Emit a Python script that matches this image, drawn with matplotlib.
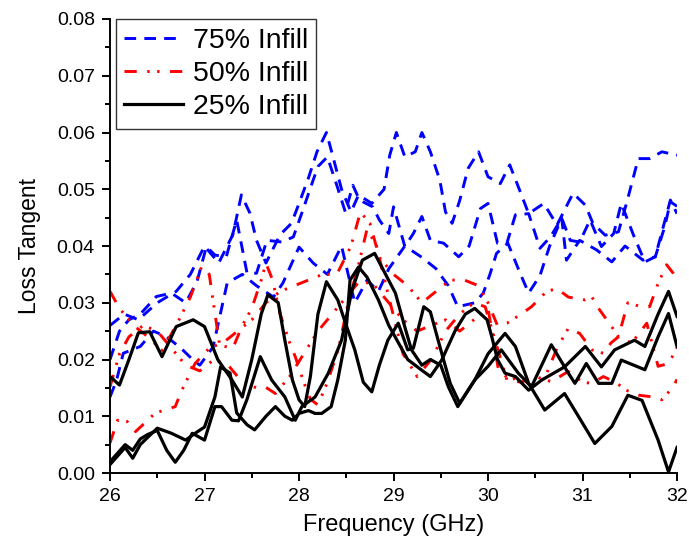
import matplotlib
matplotlib.use("Agg")
import matplotlib.pyplot as plt
from matplotlib.ticker import MultipleLocator

plt.rcParams['font.family'] = ['Liberation Sans', 'DejaVu Sans']

# ---- 75% infill (blue, dashed) ----
b1_x = [26.0, 26.15, 26.3, 26.5, 26.7, 26.85, 27.0, 27.15, 27.3, 27.39, 27.48, 27.55, 27.65, 27.8, 27.92,
        28.0, 28.1, 28.19, 28.29, 28.35, 28.45, 28.55, 28.63, 28.77, 28.9, 28.96, 29.03, 29.12, 29.23, 29.3,
        29.39, 29.49, 29.55, 29.62, 29.7, 29.79, 29.9, 30.0, 30.13, 30.23, 30.34, 30.43, 30.59, 30.73, 30.9,
        31.03, 31.11, 31.24, 31.38, 31.47, 31.59, 31.71, 31.84, 32.0]
b1_y = [0.026, 0.028, 0.027, 0.030, 0.032, 0.035, 0.040, 0.037, 0.042, 0.049, 0.0458, 0.041, 0.037, 0.042, 0.044,
        0.0475, 0.052, 0.0566, 0.060, 0.0563, 0.050, 0.046, 0.049, 0.0475, 0.050, 0.056, 0.060, 0.0557, 0.0566, 0.060,
        0.0566, 0.0516, 0.046, 0.044, 0.048, 0.0537, 0.0566, 0.0522, 0.051, 0.0543, 0.0496, 0.0457, 0.0475, 0.0437, 0.0493,
        0.0472, 0.044, 0.0419, 0.0425, 0.0478, 0.0554, 0.0554, 0.0566, 0.056]

b2_x = [26.0, 26.1, 26.2, 26.32, 26.49, 26.65, 26.8, 26.92, 27.02, 27.11, 27.23, 27.34, 27.45, 27.55, 27.66,
        27.82, 27.94, 28.04, 28.12, 28.2, 28.3, 28.4, 28.49, 28.57, 28.64, 28.78, 28.85, 28.95, 29.0, 29.12,
        29.21, 29.3, 29.39, 29.53, 29.69, 29.8, 29.92, 30.0, 30.1, 30.2, 30.29, 30.43, 30.55, 30.66, 30.78,
        30.87, 30.97, 31.08, 31.2, 31.33, 31.41, 31.54, 31.66, 31.77, 31.85, 31.93, 32.0]
b2_y = [0.020, 0.025, 0.027, 0.028, 0.0311, 0.0317, 0.030, 0.0337, 0.0399, 0.0384, 0.0381, 0.0446, 0.0352, 0.0352, 0.041,
        0.0407, 0.0416, 0.0463, 0.0502, 0.054, 0.0557, 0.0507, 0.046, 0.0507, 0.0481, 0.0469, 0.0446, 0.0422, 0.0469, 0.0399,
        0.0422, 0.0452, 0.041, 0.0405, 0.0381, 0.040, 0.0466, 0.0475, 0.0405, 0.0405, 0.0455, 0.0457, 0.0396, 0.0416, 0.0449,
        0.0410, 0.0407, 0.0446, 0.0399, 0.0422, 0.0475, 0.0419, 0.0372, 0.0381, 0.0431, 0.0481, 0.0457]

b3_x = [26.0, 26.07, 26.14, 26.32, 26.46, 26.6, 26.75, 26.88, 26.95, 27.09, 27.24, 27.4, 27.55, 27.73, 27.83,
        28.0, 28.15, 28.3, 28.45, 28.59, 28.72, 28.84, 28.95, 29.12, 29.3, 29.45, 29.58, 29.68, 29.86, 29.95,
        30.02, 30.09, 30.21, 30.34, 30.43, 30.55, 30.65, 30.78, 30.83, 30.97, 31.15, 31.31, 31.45, 31.64, 31.77,
        31.87, 31.93, 32.0]
b3_y = [0.0134, 0.0164, 0.0211, 0.0223, 0.025, 0.024, 0.022, 0.0199, 0.019, 0.0222, 0.0335, 0.035, 0.033, 0.031, 0.0335,
        0.0398, 0.037, 0.035, 0.040, 0.030, 0.034, 0.032, 0.036, 0.040, 0.038, 0.036, 0.033, 0.0293, 0.030, 0.0317,
        0.035, 0.0387, 0.0405, 0.0352, 0.0317, 0.0348, 0.0399, 0.0449, 0.0375, 0.041, 0.0393, 0.0372, 0.040, 0.0375, 0.0381,
        0.0434, 0.0478, 0.0470]

# ---- 50% infill (red, dash-dot-dot) ----
r1_x = [26.0, 26.1, 26.25, 26.4, 26.55, 26.7, 26.85, 26.97, 27.05, 27.16, 27.3, 27.4, 27.5, 27.6, 27.65,
        27.72, 27.8, 27.9, 27.96, 28.05, 28.12, 28.2, 28.3, 28.42, 28.52, 28.62, 28.72, 28.82, 28.95, 29.1,
        29.25, 29.4, 29.55, 29.7, 29.85, 29.97, 30.1, 30.2, 30.35, 30.5, 30.67, 30.85, 31.0, 31.1, 31.22,
        31.35, 31.46, 31.6, 31.75, 31.84, 31.96, 32.0]
r1_y = [0.032, 0.029, 0.026, 0.024, 0.0216, 0.026, 0.031, 0.0364, 0.035, 0.0225, 0.022, 0.026, 0.029, 0.034, 0.037,
        0.034, 0.028, 0.023, 0.0205, 0.016, 0.013, 0.012, 0.016, 0.022, 0.030, 0.036, 0.043, 0.040, 0.031, 0.021,
        0.017, 0.020, 0.025, 0.028, 0.030, 0.0293, 0.022, 0.0164, 0.016, 0.017, 0.0161, 0.0179, 0.016, 0.0158, 0.017,
        0.016, 0.0146, 0.0137, 0.0134, 0.0129, 0.0152, 0.0165]

r2_x = [26.0, 26.08, 26.18, 26.27, 26.38, 26.48, 26.56, 26.69, 26.76, 26.9, 27.05, 27.2, 27.35, 27.5, 27.65,
        27.8, 27.95, 28.1, 28.25, 28.4, 28.55, 28.65, 28.75, 28.85, 29.0, 29.15, 29.3, 29.45, 29.6, 29.75,
        29.9, 30.0, 30.1, 30.2, 30.35, 30.46, 30.62, 30.73, 30.85, 31.03, 31.1, 31.17, 31.3, 31.38, 31.48,
        31.62, 31.71, 31.8, 31.89, 31.96, 32.0]
r2_y = [0.0053, 0.0093, 0.0091, 0.0073, 0.009, 0.0106, 0.011, 0.0117, 0.0146, 0.0193, 0.022, 0.023, 0.025, 0.027, 0.030,
        0.032, 0.033, 0.034, 0.035, 0.035, 0.040, 0.046, 0.044, 0.038, 0.035, 0.033, 0.030, 0.032, 0.034, 0.034,
        0.033, 0.030, 0.026, 0.0264, 0.028, 0.0293, 0.032, 0.0325, 0.031, 0.0305, 0.031, 0.029, 0.026, 0.024, 0.030,
        0.0293, 0.0293, 0.0334, 0.0367, 0.0352, 0.034]

r3_x = [26.0, 26.1, 26.2, 26.35, 26.5, 26.65, 26.8, 26.95, 27.1, 27.25, 27.4, 27.55, 27.64, 27.75, 27.9,
        28.05, 28.2, 28.35, 28.5, 28.65, 28.8, 28.95, 29.1, 29.25, 29.4, 29.55, 29.7, 29.85, 30.0, 30.11,
        30.23, 30.35, 30.46, 30.6, 30.73, 30.85, 30.97, 31.1, 31.22, 31.3, 31.38, 31.52, 31.68, 31.8, 31.91,
        32.0]
r3_y = [0.0152, 0.021, 0.024, 0.026, 0.025, 0.022, 0.019, 0.018, 0.020, 0.019, 0.016, 0.015, 0.0152, 0.014, 0.017,
        0.021, 0.025, 0.028, 0.031, 0.034, 0.033, 0.030, 0.027, 0.025, 0.026, 0.027, 0.025, 0.027, 0.029, 0.0182,
        0.0164, 0.017, 0.0152, 0.0167, 0.022, 0.0255, 0.0246, 0.0217, 0.0211, 0.0229, 0.0240, 0.0229, 0.0264, 0.0188, 0.0193,
        0.022]

# ---- 25% infill (black, solid) ----
k1_x = [26.0, 26.1, 26.2, 26.3, 26.42, 26.55, 26.7, 26.88, 27.0, 27.14, 27.29, 27.4, 27.5, 27.6, 27.67,
        27.78, 27.85, 27.93, 28.0, 28.06, 28.12, 28.2, 28.29, 28.41, 28.5, 28.59, 28.68, 28.77, 28.85, 28.94,
        29.05, 29.15, 29.21, 29.32, 29.39, 29.49, 29.6, 29.7, 29.86, 30.0, 30.18, 30.29, 30.43, 30.6, 30.81,
        30.96, 31.13, 31.31, 31.48, 31.63, 31.8, 31.91, 32.0]
k1_y = [0.017, 0.0155, 0.020, 0.0247, 0.0249, 0.0205, 0.0258, 0.027, 0.0258, 0.020, 0.0164, 0.0134, 0.020, 0.028, 0.0314,
        0.030, 0.0234, 0.0164, 0.0129, 0.0117, 0.017, 0.028, 0.0337, 0.0305, 0.026, 0.0217, 0.016, 0.0143, 0.019, 0.0234,
        0.0264, 0.0217, 0.022, 0.0293, 0.0284, 0.0223, 0.0158, 0.0123, 0.0164, 0.021, 0.0246, 0.0223, 0.0158, 0.0111, 0.0140,
        0.0099, 0.0052, 0.0082, 0.0137, 0.0128, 0.0058, 0.0002, 0.0045]

k2_x = [26.0, 26.08, 26.16, 26.24, 26.32, 26.4, 26.5, 26.65, 26.8, 26.9, 27.0, 27.11, 27.17, 27.27, 27.34,
        27.45, 27.53, 27.65, 27.75, 27.85, 27.93, 28.0, 28.1, 28.17, 28.24, 28.34, 28.41, 28.49, 28.54, 28.63,
        28.72, 28.84, 28.95, 29.05, 29.15, 29.3, 29.39, 29.51, 29.65, 29.76, 29.86, 29.99, 30.04, 30.1, 30.18,
        30.29, 30.43, 30.57, 30.81, 31.03, 31.2, 31.34, 31.55, 31.66, 31.8, 31.91, 32.0]
k2_y = [0.0015, 0.003, 0.0045, 0.0026, 0.005, 0.0063, 0.0079, 0.007, 0.0058, 0.007, 0.0081, 0.0134, 0.0187, 0.0176, 0.0106,
        0.0085, 0.0076, 0.010, 0.0117, 0.010, 0.0093, 0.0105, 0.011, 0.0105, 0.0105, 0.0117, 0.0164, 0.0234, 0.034, 0.0363,
        0.0345, 0.0305, 0.026, 0.023, 0.020, 0.0181, 0.017, 0.0199, 0.025, 0.028, 0.029, 0.027, 0.024, 0.020, 0.0176,
        0.017, 0.0146, 0.0164, 0.0187, 0.0223, 0.0187, 0.0217, 0.0234, 0.0223, 0.028, 0.032, 0.0276]

k3_x = [26.0, 26.08, 26.16, 26.24, 26.32, 26.4, 26.5, 26.6, 26.69, 26.78, 26.87, 27.0, 27.11, 27.18, 27.29,
        27.36, 27.45, 27.59, 27.71, 27.85, 27.96, 28.03, 28.17, 28.31, 28.45, 28.56, 28.67, 28.8, 28.91, 29.02,
        29.12, 29.19, 29.3, 29.39, 29.5, 29.58, 29.68, 29.86, 30.0, 30.14, 30.32, 30.46, 30.67, 30.85, 30.92,
        31.04, 31.17, 31.31, 31.41, 31.66, 31.8, 31.91, 32.0]
k3_y = [0.002, 0.0035, 0.005, 0.004, 0.006, 0.0068, 0.0075, 0.004, 0.0019, 0.004, 0.007, 0.0058, 0.0117, 0.0117, 0.0093,
        0.0092, 0.013, 0.0205, 0.0164, 0.0134, 0.0093, 0.0117, 0.0134, 0.0176, 0.0234, 0.0322, 0.0375, 0.0387, 0.0352, 0.0317,
        0.0257, 0.0217, 0.019, 0.020, 0.019, 0.0152, 0.0117, 0.0164, 0.0188, 0.0217, 0.0176, 0.0152, 0.0226, 0.0176, 0.0158,
        0.0193, 0.0158, 0.0158, 0.0199, 0.0182, 0.024, 0.0281, 0.0223]

labels = ['75% Infill', '50% Infill', '25% Infill']

blue_dash = (0, (4.0, 2.8))
red_dash = (0, (4.2, 3.6, 0.8, 2.6, 0.8, 3.6))

fig = plt.figure(figsize=(6.89, 5.49), dpi=100)
ax = fig.add_axes([0.1597, 0.1384, 0.8229, 0.827])

lw = 2.1
for i, (xs, ys) in enumerate([(b1_x, b1_y), (b2_x, b2_y), (b3_x, b3_y)]):
    ax.plot(xs, ys, color='#0000ff', lw=lw, linestyle=blue_dash,
            label=labels[0] if i == 0 else None)
for i, (xs, ys) in enumerate([(r1_x, r1_y), (r2_x, r2_y), (r3_x, r3_y)]):
    ax.plot(xs, ys, color='#ff0000', lw=lw, linestyle=red_dash,
            label=labels[1] if i == 0 else None)
for i, (xs, ys) in enumerate([(k1_x, k1_y), (k2_x, k2_y), (k3_x, k3_y)]):
    ax.plot(xs, ys, color='black', lw=2.3, linestyle='-',
            label=labels[2] if i == 0 else None)

ax.set_xlim(26, 32)
ax.set_ylim(0, 0.08)
ax.xaxis.set_major_locator(MultipleLocator(1))
ax.xaxis.set_minor_locator(MultipleLocator(0.5))
ax.yaxis.set_major_locator(MultipleLocator(0.01))
ax.yaxis.set_minor_locator(MultipleLocator(0.005))
ax.yaxis.set_major_formatter(plt.FuncFormatter(lambda v, p: '%.2f' % v))

for s in ['top', 'right']:
    ax.spines[s].set_visible(False)
for s in ['left', 'bottom']:
    ax.spines[s].set_linewidth(1.4)
ax.tick_params(which='major', direction='out', length=6, width=1.4, labelsize=14, pad=5)
ax.tick_params(which='minor', direction='out', length=3.5, width=1.4)

ax.set_xlabel('Frequency (GHz)', fontsize=17, labelpad=6)
ax.set_ylabel('Loss Tangent', fontsize=16.5, labelpad=11)

leg = ax.legend(loc='upper left', bbox_to_anchor=(0.01, 1.0), fontsize=20.5,
                frameon=True, fancybox=False, handlelength=2.05, handletextpad=0.35,
                borderpad=0.3, labelspacing=0.26, borderaxespad=0)
leg.get_frame().set_edgecolor('black')
leg.get_frame().set_linewidth(1.0)

fig.savefig('out.png', dpi=100)
